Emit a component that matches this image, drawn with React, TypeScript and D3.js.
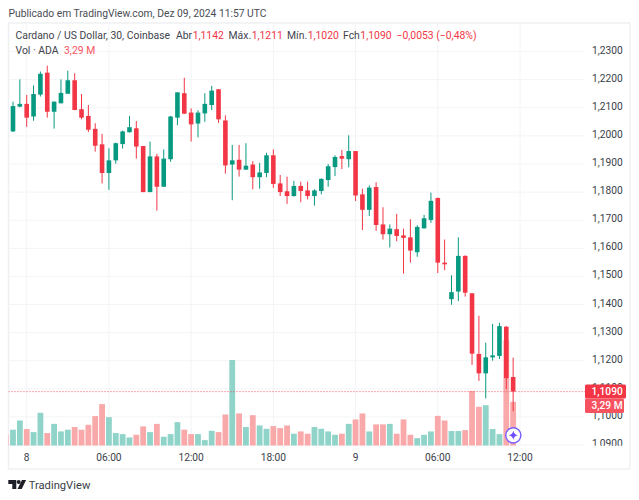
import React, { useEffect, useRef } from 'react';
import * as d3 from 'd3';

const WIDTH = 639;
const HEIGHT = 500;

// candles, first one is bar -2 (two bars before the "8" tick)
const opens = [
  1.2016, 1.2104, 1.2114, 1.2069, 1.2147, 1.2225, 1.2086, 1.2116, 1.2150, 1.2198,
  1.2095, 1.2071, 1.2025, 1.1970, 1.1868, 1.1913, 1.1971, 1.2013, 1.2027, 1.1964,
  1.1800, 1.1927, 1.1819, 1.1917, 1.2065, 1.2152, 1.2083, 1.2044, 1.2080, 1.2110,
  1.2166, 1.2055, 1.1898, 1.1915, 1.1880, 1.1898, 1.1853, 1.1868, 1.1931, 1.1831,
  1.1803, 1.1786, 1.1822, 1.1806, 1.1786, 1.1804, 1.1843, 1.1889, 1.1928, 1.1917,
  1.1946, 1.1792, 1.1737, 1.1818, 1.1685, 1.1650, 1.1668, 1.1646, 1.1639, 1.1586,
  1.1671, 1.1701, 1.1779, 1.1549, 1.1419, 1.1446, 1.1573, 1.1440, 1.1224, 1.1155,
  1.1212, 1.1217, 1.1321, 1.1142,
];
const highs = [
  1.2122, 1.2201, 1.2146, 1.2180, 1.2229, 1.2250, 1.2122, 1.2201, 1.2232, 1.2223,
  1.2149, 1.2110, 1.2045, 1.2007, 1.1956, 1.1976, 1.2019, 1.2071, 1.2053, 1.1964,
  1.1980, 1.1936, 1.1952, 1.2071, 1.2155, 1.2207, 1.2098, 1.2091, 1.2152, 1.2178,
  1.2166, 1.2073, 1.1968, 1.1968, 1.1974, 1.1910, 1.1904, 1.1940, 1.1952, 1.1861,
  1.1855, 1.1840, 1.1837, 1.1837, 1.1810, 1.1849, 1.1900, 1.1931, 1.1950, 1.2002,
  1.1946, 1.1812, 1.1824, 1.1835, 1.1746, 1.1685, 1.1722, 1.1670, 1.1703, 1.1682,
  1.1719, 1.1798, 1.1781, 1.1631, 1.1504, 1.1639, 1.1575, 1.1440, 1.1360, 1.1264,
  1.1331, 1.1335, 1.1323, 1.1211,
];
const lows = [
  1.2014, 1.2102, 1.2032, 1.2054, 1.2140, 1.2065, 1.2026, 1.2116, 1.2150, 1.2092,
  1.2059, 1.2014, 1.1944, 1.1831, 1.1808, 1.1901, 1.1955, 1.2012, 1.1919, 1.1800,
  1.1800, 1.1734, 1.1819, 1.1908, 1.2038, 1.2079, 1.1980, 1.1995, 1.2050, 1.2092,
  1.2046, 1.1866, 1.1771, 1.1855, 1.1879, 1.1810, 1.1812, 1.1853, 1.1815, 1.1786,
  1.1758, 1.1784, 1.1764, 1.1774, 1.1752, 1.1792, 1.1819, 1.1857, 1.1882, 1.1888,
  1.1768, 1.1665, 1.1715, 1.1662, 1.1631, 1.1603, 1.1625, 1.1510, 1.1549, 1.1570,
  1.1670, 1.1691, 1.1512, 1.1522, 1.1399, 1.1412, 1.1428, 1.1185, 1.1128, 1.1066,
  1.1200, 1.1206, 1.1099, 1.1020,
];
const closes = [
  1.2106, 1.2114, 1.2065, 1.2149, 1.2221, 1.2086, 1.2122, 1.2153, 1.2198, 1.2092,
  1.2065, 1.2022, 1.1965, 1.1868, 1.1913, 1.1974, 1.2016, 1.2031, 1.1962, 1.1800,
  1.1927, 1.1819, 1.1919, 1.2069, 1.2155, 1.2079, 1.2041, 1.2083, 1.2114, 1.2161,
  1.2059, 1.1895, 1.1913, 1.1880, 1.1894, 1.1853, 1.1870, 1.1931, 1.1829, 1.1800,
  1.1786, 1.1822, 1.1804, 1.1786, 1.1806, 1.1847, 1.1892, 1.1925, 1.1919, 1.1946,
  1.1788, 1.1737, 1.1816, 1.1683, 1.1650, 1.1670, 1.1644, 1.1637, 1.1592, 1.1676,
  1.1707, 1.1769, 1.1549, 1.1543, 1.1444, 1.1573, 1.1442, 1.1225, 1.1155, 1.1212,
  1.1219, 1.1323, 1.1138, 1.1090,
];
// volume in millions, one bar more on the left than the candles (bar -3, cut by the pane)
const volumes = [
  0.82, 1.20, 1.89, 1.25, 1.02, 2.47, 0.95, 1.64, 1.07, 1.20, 1.40, 1.20, 1.57, 2.22, 3.12,
  2.14, 0.95, 0.87, 0.62, 0.82, 1.45, 1.02, 1.64, 0.67, 0.87, 1.77, 1.20, 0.87, 0.87, 0.42,
  1.12, 1.02, 2.34, 6.43, 2.42, 1.40, 2.29, 1.52, 1.27, 1.47, 1.32, 1.52, 0.90, 1.07, 0.90,
  1.40, 1.27, 1.07, 0.82, 0.90, 1.64, 1.97, 2.42, 1.07, 1.60, 1.60, 1.64, 0.90, 1.97, 0.82,
  0.57, 0.82, 1.07, 2.24, 1.89, 1.10, 1.10, 1.17, 4.11, 2.92, 3.04, 1.25, 0.87, 7.90, 3.29,
];

const priceTicks = [1.09, 1.10, 1.11, 1.12, 1.13, 1.14, 1.15, 1.16, 1.17, 1.18, 1.19, 1.20, 1.21, 1.22, 1.23];
const timeTicks = [0, 12, 24, 36, 48, 60, 72];
const timeLabels = ['8', '06:00', '12:00', '18:00', '9', '06:00', '12:00'];
const lastPrice = 1.109;

const UP = '#089981';
const DOWN = '#f23645';
const FONT = 'Roboto, sans-serif';

const App: React.FC = () => {
  const ref = useRef<SVGSVGElement | null>(null);

  useEffect(() => {
    const svg = d3.select(ref.current!);
    svg.selectAll('*').remove();

    const paneL = 8.5;
    const paneR = 630;
    const paneT = 23;
    const paneB = 469;
    const axisX = 585;
    const plotB = 445.7;

    const x = d3.scaleLinear().domain([0, 72]).range([26.7, 520]);
    const y = d3.scaleLinear().domain([1.09, 1.23]).range([445, 51.6]);
    const yVol = d3.scaleLinear().domain([0, 6.43]).range([plotB, 360]);
    const fmt = (p: number) => d3.format('.4f')(p).replace('.', ',');

    const defs = svg.append('defs');
    defs.append('clipPath').attr('id', 'plot')
      .append('rect').attr('x', paneL).attr('y', paneT).attr('width', axisX - paneL).attr('height', plotB - paneT);
    defs.append('clipPath').attr('id', 'axis')
      .append('rect').attr('x', axisX).attr('y', paneT).attr('width', paneR - axisX).attr('height', plotB - paneT);

    svg.append('rect').attr('width', WIDTH).attr('height', HEIGHT).attr('fill', '#ffffff');

    // pane frame
    svg.append('rect')
      .attr('x', paneL).attr('y', paneT).attr('width', paneR - paneL).attr('height', paneB - paneT)
      .attr('fill', 'none').attr('stroke', '#eeeff3').attr('stroke-width', 1.4);

    // grid
    svg.append('g').selectAll('line').data(priceTicks).enter().append('line')
      .attr('x1', paneL).attr('x2', axisX)
      .attr('y1', d => y(d)).attr('y2', d => y(d))
      .attr('stroke', '#f3f4f6').attr('stroke-width', 1);
    svg.append('g').selectAll('line').data(timeTicks).enter().append('line')
      .attr('x1', d => x(d)).attr('x2', d => x(d))
      .attr('y1', paneT).attr('y2', plotB)
      .attr('stroke', '#f3f4f6').attr('stroke-width', 1);

    const plot = svg.append('g').attr('clip-path', 'url(#plot)');

    // volume below the candles
    plot.selectAll('rect.vol').data(volumes).enter().append('rect')
      .attr('class', 'vol')
      .attr('x', (d, i) => x(i - 3) - 2.9)
      .attr('width', 5.8)
      .attr('y', d => yVol(d))
      .attr('height', d => plotB - yVol(d))
      .attr('fill', (d, i) => {
        if (i === 0) return '#f9a9a9';
        return closes[i - 1] >= opens[i - 1] ? '#90d4c9' : '#f9a9a9';
      });

    // last price line
    plot.append('line')
      .attr('x1', paneL).attr('x2', axisX)
      .attr('y1', y(lastPrice)).attr('y2', y(lastPrice))
      .attr('stroke', '#f7525f').attr('stroke-width', 1).attr('stroke-dasharray', '1 2');

    const candles = plot.selectAll('g.candle').data(opens).enter().append('g').attr('class', 'candle');
    candles.append('line')
      .attr('x1', (d, i) => x(i - 2)).attr('x2', (d, i) => x(i - 2))
      .attr('y1', (d, i) => y(highs[i])).attr('y2', (d, i) => y(lows[i]))
      .attr('stroke', (d, i) => (closes[i] >= d ? UP : DOWN)).attr('stroke-width', 1);
    candles.append('rect')
      .attr('x', (d, i) => x(i - 2) - 2.3)
      .attr('width', 4.6)
      .attr('y', (d, i) => y(Math.max(d, closes[i])))
      .attr('height', (d, i) => Math.max(1.2, Math.abs(y(d) - y(closes[i]))))
      .attr('fill', (d, i) => (closes[i] >= d ? UP : DOWN));

    // price axis
    svg.append('g').attr('clip-path', 'url(#axis)')
      .selectAll('text').data(priceTicks).enter().append('text')
      .attr('x', 592)
      .attr('y', d => y(d) - 1.5)
      .attr('dy', '0.35em')
      .attr('font-family', FONT).attr('font-size', 10.2).attr('fill', '#3a3e47')
      .text(d => fmt(d));

    // time axis
    svg.append('g').selectAll('text').data(timeTicks).enter().append('text')
      .attr('x', d => x(d))
      .attr('y', 457.5)
      .attr('dy', '0.35em')
      .attr('text-anchor', 'middle')
      .attr('font-family', FONT).attr('font-size', 10.2).attr('fill', '#3a3e47')
      .text((d, i) => timeLabels[i]);

    // last value labels
    svg.append('rect').attr('x', 585).attr('y', 384.5).attr('width', 41).attr('height', 14)
      .attr('rx', 1.5).attr('fill', DOWN);
    svg.append('text').attr('x', 591.5).attr('y', 391.5).attr('dy', '0.35em')
      .attr('font-family', FONT).attr('font-size', 10.2).attr('font-weight', 500).attr('fill', '#ffffff')
      .text(fmt(lastPrice));
    svg.append('rect').attr('x', 585).attr('y', 398.5).attr('width', 39).attr('height', 14.5)
      .attr('rx', 1.5).attr('fill', '#f7525f');
    svg.append('text').attr('x', 591.5).attr('y', 405.5).attr('dy', '0.35em')
      .attr('font-family', FONT).attr('font-size', 10.2).attr('font-weight', 500).attr('fill', '#ffffff')
      .text('3,29 M');

    // purple marker
    const mark = svg.append('g').attr('transform', 'translate(513.3,435.3)');
    mark.append('circle').attr('r', 7.6).attr('fill', '#ffffff').attr('stroke', '#7b61ff').attr('stroke-width', 1.5);
    mark.append('path')
      .attr('d', 'M0 -4.6Q0.7 -0.7 4.6 0Q0.7 0.7 0 4.6Q-0.7 0.7 -4.6 0Q-0.7 -0.7 0 -4.6Z')
      .attr('fill', '#6e4dff');

    // header texts
    svg.append('text').attr('x', 8.5).attr('y', 16.5)
      .attr('font-family', FONT).attr('font-size', 10.3).attr('fill', '#4a4d55')
      .text('Publicado em TradingView.com, Dez 09, 2024 11:57 UTC');

    const legend = svg.append('text').attr('x', 15.5).attr('y', 39)
      .attr('font-family', FONT).attr('font-size', 10.4).attr('fill', '#3f434c');
    legend.append('tspan').text('Cardano / US Dollar, 30, Coinbase');
    const legendItems = [
      ['Abr', '1,1142', 176],
      ['Máx.', '1,1211', 228.5],
      ['Mín.', '1,1020', 287],
      ['Fch', '1,1090', 343],
    ] as const;
    legendItems.forEach(([name, value, px]) => {
      legend.append('tspan').attr('x', px).text(name);
      legend.append('tspan').attr('fill', DOWN).attr('dx', 0.5).text(value);
    });
    legend.append('tspan').attr('x', 396.5).attr('fill', DOWN).text('−0,0053 (−0,48%)');

    const volLegend = svg.append('text').attr('x', 15.5).attr('y', 53.5)
      .attr('font-family', FONT).attr('font-size', 10.4).attr('fill', '#3f434c');
    volLegend.append('tspan').text('Vol · ADA');
    volLegend.append('tspan').attr('x', 64).attr('fill', '#f7525f').text('3,29 M');

    // logo
    const logo = svg.append('g').attr('fill', '#1c1f26').attr('transform', 'translate(8.3,480)');
    logo.append('path').attr('d', 'M0 0H8V9H4V4H0Z');
    logo.append('circle').attr('cx', 10.4).attr('cy', 2).attr('r', 2);
    logo.append('path').attr('d', 'M13.6 0H17.8L13.4 9H9.2Z');
    svg.append('text').attr('x', 28.7).attr('y', 488.5)
      .attr('font-family', FONT).attr('font-size', 11.2).attr('fill', '#3a3e47')
      .text('TradingView');
  }, []);

  return (
    <svg
      ref={ref}
      width={WIDTH}
      height={HEIGHT}
      style={{ position: 'absolute', left: 0, top: 0, display: 'block' }}
    />
  );
};

export default App;
